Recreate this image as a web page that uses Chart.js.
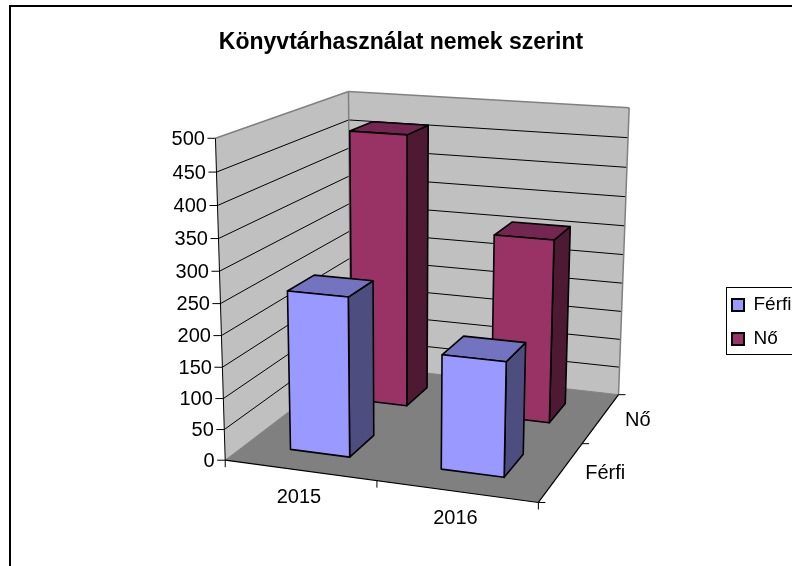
<!DOCTYPE html>
<html><head><meta charset="utf-8">
<style>html,body{margin:0;padding:0;background:#fff}canvas{display:block}</style>
<script src="https://cdn.jsdelivr.net/npm/chart.js@4"></script>
</head><body>
<div style="width:792px;height:566px"><canvas id="c" width="792" height="566"></canvas></div>
<script>
const titleText = 'Könyvtárhasználat nemek szerint';
const categories = ['2015', '2016'];
const seriesNames = ['Férfi', 'Nő'];
const ferfiValues = [257, 182];
const noValues = [463, 309];
const FONT = 'Arial, "Liberation Sans", sans-serif';

// Box corners (u along categories, z along series, v up the value axis) -> screen, used to fit the 3D camera
const cal = [
 [0,0,0,226,460],[0,0,1,215,138],[0,1,0,350,365],[0,1,1,349,91.5],
 [1,1,0,619,394],[1,1,1,629,108],[1,0,0,538,503]
];
function fitCamera(pts){
  const n=11,A=Array.from({length:n},()=>new Array(n+1).fill(0));
  const add=(r,b)=>{for(let i=0;i<n;i++){for(let j=0;j<n;j++)A[i][j]+=r[i]*r[j];A[i][n]+=r[i]*b;}};
  for(const [u,z,v,px,py] of pts){
    const x=px/100,y=py/100;
    add([u,z,v,1,0,0,0,0,-x*u,-x*z,-x*v],x);
    add([0,0,0,0,u,z,v,1,-y*u,-y*z,-y*v],y);
  }
  for(let i=0;i<n;i++)A[i][i]+=1e-9;
  for(let i=0;i<n;i++){
    let p=i;for(let k=i+1;k<n;k++)if(Math.abs(A[k][i])>Math.abs(A[p][i]))p=k;
    [A[i],A[p]]=[A[p],A[i]];
    for(let k=0;k<n;k++){if(k===i)continue;const f=A[k][i]/A[i][i];for(let j=i;j<=n;j++)A[k][j]-=f*A[i][j];}
  }
  return A.map((r,i)=>r[n]/r[i]);
}
const M=fitCamera(cal);
function P(u,z,v){
  const w=M[8]*u+M[9]*z+M[10]*v+1;
  return [100*(M[0]*u+M[1]*z+M[2]*v+M[3])/w,100*(M[4]*u+M[5]*z+M[6]*v+M[7])/w];
}
function poly(ctx,pts,fill,stroke,lw){
  ctx.beginPath();pts.forEach((p,i)=>i?ctx.lineTo(p[0],p[1]):ctx.moveTo(p[0],p[1]));ctx.closePath();
  if(fill){ctx.fillStyle=fill;ctx.fill();}
  if(stroke){ctx.strokeStyle=stroke;ctx.lineWidth=lw||1;ctx.lineJoin='round';ctx.stroke();}
}
function seg(ctx,a,b,col,lw){ctx.beginPath();ctx.moveTo(a[0],a[1]);ctx.lineTo(b[0],b[1]);ctx.strokeStyle=col;ctx.lineWidth=lw||1;ctx.stroke();}

const faces=[{front:'#9999FF',top:'#7373BF',side:'#4D4D80'},{front:'#993366',top:'#732650',side:'#4D1933'}];

const scene3d={
  id:'scene3d',
  afterLayout(chart){
    const l=chart.legend;
    l.left=717;l.right=800;l.top=280.5;l.bottom=400;l.width=83;l.height=120;
  },
  beforeDatasetsDraw(chart){
    const ctx=chart.ctx,xS=chart.scales.x,yS=chart.scales.y,a=chart.chartArea;
    const vOf=val=>(yS.bottom-yS.getPixelForValue(val))/(yS.bottom-yS.top);
    const uOf=px=>(px-a.left)/(a.right-a.left);
    ctx.save();
    // frame
    ctx.strokeStyle='#000';ctx.lineWidth=2;ctx.strokeRect(10,6,900,900);
    // walls and floor
    poly(ctx,[P(0,0,0),P(0,1,0),P(0,1,1),P(0,0,1)],'#C0C0C0');
    poly(ctx,[P(0,1,0),P(1,1,0),P(1,1,1),P(0,1,1)],'#C0C0C0');
    poly(ctx,[P(0,0,0),P(1,0,0),P(1,1,0),P(0,1,0)],'#808080');
    // gridlines and value ticks
    ctx.font='20px '+FONT;ctx.textAlign='right';ctx.textBaseline='middle';
    yS.ticks.forEach(t=>{
      const v=vOf(t.value),f=P(0,0,v),b=P(0,1,v),r=P(1,1,v);
      if(t.value>yS.min&&t.value<yS.max){seg(ctx,f,b,'#000');seg(ctx,b,r,'#000');}
      seg(ctx,[f[0]-8,f[1]],f,'#000');
      ctx.fillStyle='#000';ctx.fillText(String(t.value),f[0]-10.5,f[1]+1);
    });
    // wall outline
    seg(ctx,P(0,0,1),P(0,1,1),'#808080',1.5);seg(ctx,P(0,1,1),P(1,1,1),'#808080',1.5);
    seg(ctx,P(1,1,1),P(1,1,0),'#808080',1.5);seg(ctx,P(0,1,0),P(0,1,1),'#808080',1.5);
    seg(ctx,P(0,1,0),P(1,1,0),'#808080',1);seg(ctx,P(0,0,0),P(0,1,0),'#808080',1);
    // axes
    seg(ctx,P(0,0,0),P(0,0,1),'#000',1);
    seg(ctx,P(0,0,0),P(1,0,0),'#000',1.2);
    seg(ctx,P(1,0,0),P(1,1,0),'#000',1.2);
    const nc=categories.length,ns=seriesNames.length;
    for(let i=0;i<=nc;i++){const p=P(i/nc,0,0);seg(ctx,p,[p[0],p[1]+7],'#000');}
    for(let i=0;i<=ns;i++){const p=P(1,i/ns,0);seg(ctx,p,[p[0]+7,p[1]],'#000');}
    // labels
    ctx.fillStyle='#000';ctx.textAlign='center';
    categories.forEach((c,i)=>{const p=P(uOf(xS.getPixelForValue(i)),0,0);ctx.fillText(c,p[0]-1,p[1]+27);});
    ctx.textAlign='left';
    seriesNames.forEach((s,i)=>{const p=P(1,(i+.5)/ns,0);ctx.fillText(s,p[0]+24,p[1]+2);});
    // bars, back to front
    for(let d=chart.data.datasets.length-1;d>=0;d--){
      const meta=chart.getDatasetMeta(d),col=faces[d];
      const z0=(d+.3)/ns,z1=(d+.7)/ns;
      meta.data.forEach(el=>{
        const u0=uOf(el.x-el.width/2),u1=uOf(el.x+el.width/2);
        const v=(yS.bottom-el.y)/(yS.bottom-yS.top);
        poly(ctx,[P(u1,z0,0),P(u1,z1,0),P(u1,z1,v),P(u1,z0,v)],col.side,'#000',1.6);
        poly(ctx,[P(u0,z0,v),P(u1,z0,v),P(u1,z1,v),P(u0,z1,v)],col.top,'#000',1.6);
        poly(ctx,[P(u0,z0,0),P(u1,z0,0),P(u1,z0,v),P(u0,z0,v)],col.front,'#000',1.6);
      });
    }
    ctx.restore();
    return false;
  },
  afterDraw(chart){
    const ctx=chart.ctx;ctx.save();ctx.strokeStyle='#000';ctx.lineWidth=1;
    ctx.strokeRect(726.5,287.5,100,67);ctx.restore();
  }
};

new Chart(document.getElementById('c'),{
  type:'bar',
  data:{labels:categories,datasets:[
    {label:seriesNames[0],data:ferfiValues,backgroundColor:'#9999FF',borderColor:'#000',borderWidth:2},
    {label:seriesNames[1],data:noValues,backgroundColor:'#993366',borderColor:'#000',borderWidth:2}
  ]},
  plugins:[scene3d],
  options:{
    responsive:false,animation:false,
    layout:{padding:{left:10,top:0}},
    grouped:false,barPercentage:.4,categoryPercentage:1,
    scales:{
      x:{display:false},
      y:{display:false,min:0,max:500,ticks:{stepSize:50}}
    },
    plugins:{
      title:{display:true,text:titleText,color:'#000',font:{family:FONT,size:23,weight:'bold'},padding:{top:29,bottom:8}},
      legend:{position:'right',align:'start',labels:{color:'#000',font:{family:FONT,size:19},boxWidth:12,boxHeight:12,padding:15}},
      tooltip:{enabled:false}
    }
  }
});
</script>
</body></html>
